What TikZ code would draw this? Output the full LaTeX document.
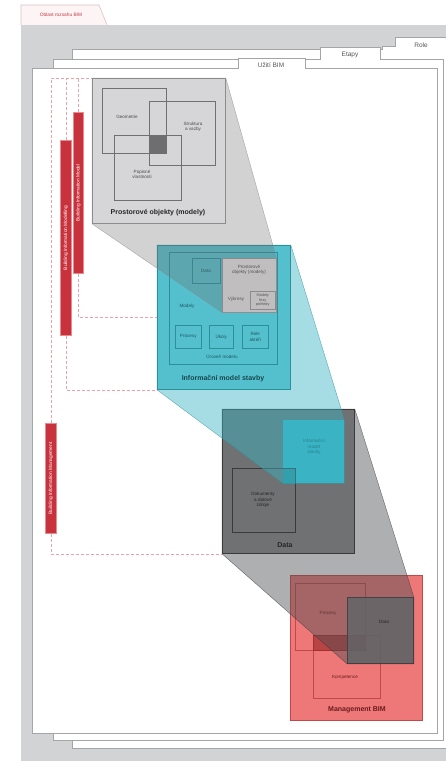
\documentclass[tikz,border=0pt]{standalone}
\usepackage{fontspec}
\setmainfont{Liberation Sans}
\definecolor{bggrey}{HTML}{D1D3D5}
\definecolor{sheetline}{HTML}{A3A5A7}
\definecolor{tabfill}{HTML}{FDF4F5}
\definecolor{tabline}{HTML}{D9C3C6}
\definecolor{tabred}{HTML}{C23A44}
\definecolor{tabtext}{HTML}{555555}
\definecolor{barred}{HTML}{C8323C}
\definecolor{barglow}{HTML}{E88A90}
\definecolor{dashred}{HTML}{E9A3A8}
\definecolor{boxagrey}{HTML}{D6D6D8}
\definecolor{boxaline}{HTML}{8C8C8E}
\definecolor{innerline}{HTML}{707072}
\definecolor{interdark}{HTML}{6E6E70}
\definecolor{cyanfill}{HTML}{55C0CD}
\definecolor{cyanline}{HTML}{2B8F9C}
\definecolor{cyandark}{HTML}{2F8E9A}
\definecolor{cyantext}{HTML}{1C5A63}
\definecolor{t1fill}{HTML}{E6E3E3}
\definecolor{t1line}{HTML}{9A9A9C}
\definecolor{datafill}{HTML}{707173}
\definecolor{dataline}{HTML}{3A3A3C}
\definecolor{datasq}{HTML}{6E787C}
\definecolor{hullgrey}{HTML}{6A6A6C}
\definecolor{hullcyan}{HTML}{3AB4C4}
\definecolor{hulldark}{HTML}{4D4F52}
\definecolor{mgmtfill}{HTML}{EE7878}
\definecolor{mgmtline}{HTML}{C54848}
\definecolor{mgmtdark}{HTML}{8E1A1A}
\definecolor{mgmttext}{HTML}{6A1C1C}
\begin{document}
\begin{tikzpicture}[x=1pt,y=-1pt,
  sheet/.style={draw=sheetline,fill=white,line width=0.7pt},
  tablabel/.style={font=\fontsize{6.5}{7}\selectfont,text=tabtext,inner sep=0pt},
  bigbox/.style={anchor=north west,inner sep=0pt,line width=0.8pt},
  sqbox/.style={anchor=north west,inner sep=0pt,line width=0.5pt},
  tiny/.style={font=\fontsize{4.6}{5.3}\selectfont,align=center,inner sep=0pt},
  boxtitle/.style={font=\fontsize{7}{8}\selectfont\bfseries,inner sep=0pt},
  bar/.style={anchor=north west,inner sep=0pt,fill=barred,draw=barglow,line width=0.8pt},
  bartext/.style={rotate=90,font=\fontsize{4.8}{5}\selectfont,text=white,inner sep=0pt},
  dashline/.style={draw=dashred,line width=0.6pt,dash pattern=on 3pt off 2pt},
  hullline/.style={line width=0.4pt,draw opacity=0.7},
]
\useasboundingbox (0,0) rectangle (446,761);
\clip (0,0) rectangle (446,761);
\fill[white] (0,0) rectangle (446,761);

% top tab and grey ground
\filldraw[fill=tabfill,draw=tabline,line width=0.6pt] (21,25) -- (21,5) -- (99,5) -- (107,25);
\node[font=\fontsize{4.8}{5}\selectfont,text=tabred,inner sep=0pt] (toptab) at (61,15) {Oblast rozsahu BIM};
\fill[bggrey] (21,25) rectangle (446,761);

% sheets
\filldraw[sheet] (452,748) -- (72,748) -- (72,49) -- (382,49) -- (382,46) -- (395,46) -- (395,37) -- (452,37) -- cycle;
\node[tablabel] (trole) at (421,45) {Role};
\filldraw[sheet] (443,740) -- (53,740) -- (53,59) -- (320,59) -- (320,47) -- (380,47) -- (380,59) -- (443,59) -- cycle;
\node[tablabel] (tetapy) at (350,55) {Etapy};
\filldraw[sheet] (437,733) -- (32,733) -- (32,68) -- (238,68) -- (238,58) -- (305,58) -- (305,68) -- (437,68) -- cycle;
\node[tablabel] (tuziti) at (271,65) {Užití BIM};

% reference boxes (placed first so dashed lines can use them)
\path (92,78) coordinate (b1nw);

% red bars
\node[bar,minimum width=10pt,minimum height=161pt] (barA) at (73,112) {};
\node[bartext] (barAt) at (barA.center) {Building Information Model};
\node[bar,minimum width=11pt,minimum height=195pt] (barB) at (60,140) {};
\node[bartext] (barBt) at (barB.center) {Building Information Modelling};
\node[bar,minimum width=11pt,minimum height=110pt] (barC) at (45,423) {};
\node[bartext] (barCt) at (barC.center) {Building Information Management};

% ---------- box 4 : Management BIM ----------
\node[bigbox,fill=mgmtfill,draw=mgmtline,minimum width=132pt,minimum height=145pt] (b4) at (290,575) {};
\node[sqbox,draw=mgmtline,minimum width=70pt,minimum height=67pt] (pr) at (295,583) {};
\node[sqbox,draw=mgmtline,minimum width=67pt,minimum height=63pt] (kv) at (313,635) {};
\fill[mgmtdark,opacity=0.55] (kv.north west) rectangle (pr.south east);
\node[sqbox,fill=datasq,fill opacity=0.8,draw=dataline,line width=0.8pt,minimum width=66pt,minimum height=66pt] (t3) at (347,597) {};
\node[tiny,text=mgmttext] (lpr) at (328,613) {Procesy};
\node[tiny,text=mgmttext] (lkv) at (345,677) {Kompetence};
\node[tiny,text=black] (ld4) at (384,622) {Data};
\node[boxtitle,text=mgmttext] (ttl4) at (357,710) {Management BIM};

% ---------- box 3 : Data ----------
\node[bigbox,fill=datafill,draw=dataline,minimum width=132pt,minimum height=144pt] (b3) at (222,409) {};
\filldraw[hullline,fill=hulldark,fill opacity=0.45,draw=dataline]
  (b3.north west) -- (b3.north east) -- (t3.north east) -- (t3.south east) -- (t3.south west) -- (b3.south west) -- cycle;
\node[bigbox,fill=datafill,draw=dataline,minimum width=132pt,minimum height=144pt] (b3) at (222,409) {};
\node[sqbox,fill=hullcyan,draw=none,minimum width=61pt,minimum height=63pt] (t2) at (283,420) {};
\node[sqbox,draw=dataline,line width=0.9pt,minimum width=63pt,minimum height=64pt] (dk) at (232,468) {};
\fill[cyandark] (dk.north -| t2.west) rectangle (t2.south -| dk.east);
\draw[dataline,line width=0.9pt] (dk.north west) rectangle (dk.south east);
\node[tiny,text=cyantext] (lt2) at (314,447) {Informační\\model\\stavby};
\node[tiny,text=black!85] (ldk) at (263,500) {Dokumenty\\a datové\\zdroje};
\node[boxtitle,text=black!85] (ttl3) at (285,545) {Data};

% dashed brackets
\draw[dashline] (barC.north) |- (b1nw);
\draw[dashline] (barB.north) -- (barB.north |- b1nw);
\draw[dashline] (barA.north) -- (barA.north |- b1nw);

% ---------- box 2 : Informační model stavby ----------
\node[bigbox,fill=cyanfill,draw=cyanline,minimum width=133pt,minimum height=144pt] (b2) at (157,245) {};
\filldraw[hullline,fill=hullcyan,fill opacity=0.45,draw=cyanline]
  (b2.north west) -- (b2.north east) -- (t2.north east) -- (t2.south east) -- (t2.south west) -- (b2.south west) -- cycle;
\node[bigbox,fill=cyanfill,draw=cyanline,minimum width=133pt,minimum height=144pt] (b2) at (157,245) {};
\draw[dashline] (barA.south) |- (b2.west);
\draw[dashline] (barB.south) |- (b2.south west);
\draw[dashline] (barC.south) |- (b3.south west);
\node[sqbox,draw=cyanline,line width=0.4pt,minimum width=108pt,minimum height=112pt] (fr) at (169,252) {};
\node[sqbox,draw=cyanline,minimum width=28pt,minimum height=25pt] (dt) at (192,258) {};
\node[tiny,text=cyantext] (ldt) at (206,271) {Data};
\node[tiny,text=cyantext] (lmod) at (187,306) {Modely};
\node[sqbox,draw=cyanline,minimum width=26pt,minimum height=23pt] (pc) at (175,325) {};
\node[sqbox,draw=cyanline,minimum width=24pt,minimum height=23pt] (uk) at (209,325) {};
\node[sqbox,draw=cyanline,minimum width=26pt,minimum height=23pt] (ro) at (242,325) {};
\node[tiny,text=cyantext] (lpc) at (pc.center) {Procesy};
\node[tiny,text=cyantext] (luk) at (uk.center) {Úkoly};
\node[tiny,text=cyantext] (lro) at (ro.center) {Role\\aktéři};
\node[tiny,text=cyantext] (lur) at (222,357) {Úroveň modelu};
\node[sqbox,fill=t1fill,draw=t1line,minimum width=54pt,minimum height=54pt] (t1) at (222,258) {};
\node[sqbox,draw=t1line,minimum width=25pt,minimum height=18pt] (mo) at (250,291) {};
\node[tiny,text=black!70] (lt1) at (249,270) {Prostorové\\objekty (modely)};
\node[tiny,text=black!70] (lvy) at (236,299) {Výkresy};
\node[tiny,font=\fontsize{3.8}{4.3}\selectfont,text=black!70] (lmo) at (mo.center) {Modely\\řezy\\pohledy};
\node[boxtitle,text=cyantext!80!black] (ttl2) at (223,379) {Informační model stavby};

% ---------- box 1 : Prostorové objekty ----------
\node[bigbox,fill=boxagrey,draw=boxaline,minimum width=133pt,minimum height=145pt] (b1) at (92,78) {};
\filldraw[hullline,fill=hullgrey,fill opacity=0.3,draw=boxaline]
  (b1.north west) -- (b1.north east) -- (t1.north east) -- (t1.south east) -- (t1.south west) -- (b1.south west) -- cycle;
\node[bigbox,fill=boxagrey,draw=boxaline,minimum width=133pt,minimum height=145pt] (b1) at (92,78) {};
\node[sqbox,draw=innerline,minimum width=64pt,minimum height=65pt] (g) at (102,88) {};
\node[sqbox,draw=innerline,minimum width=66pt,minimum height=64pt] (s) at (149,101) {};
\node[sqbox,draw=innerline,minimum width=67pt,minimum height=65pt] (p) at (114,135) {};
\fill[interdark] (s.west |- p.north) rectangle (g.south east);
\node[tiny,text=black!70] (lg) at (127,117) {Geometrie};
\node[tiny,text=black!70] (ls) at (193,127) {Struktura\\a vazby};
\node[tiny,text=black!70] (lp) at (142,174) {Popisné\\vlastnosti};
\node[boxtitle,text=black!85] (ttl1) at (158,213) {Prostorové objekty (modely)};
\end{tikzpicture}
\end{document}
